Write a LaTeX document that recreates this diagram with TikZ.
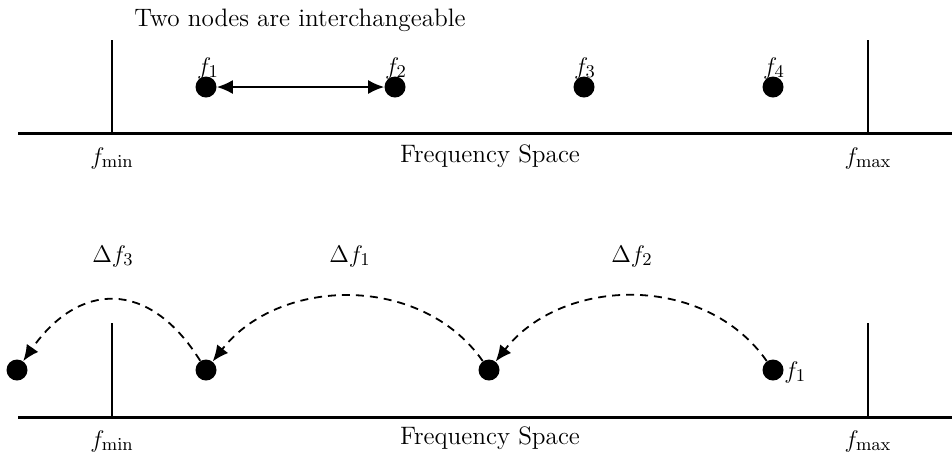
\documentclass[tikz,border=0pt]{standalone}
\usetikzlibrary{arrows.meta}
\begin{document}
\begin{tikzpicture}[x=0.5pt,y=-0.5pt,font=\fontsize{12.6}{15}\selectfont,
  dot/.style={circle,fill=black,inner sep=0pt,minimum size=10.5pt},
  axis/.style={line width=1.5pt},
  wall/.style={line width=1pt},
  jump/.style={line width=0.9pt,dash pattern=on 4pt off 3pt,-{Latex[length=8pt,width=7pt]}},
  txt/.style={inner sep=0pt}]
\useasboundingbox (0,0) rectangle (952,452);
% ---------- top panel ----------
\node[txt] (title) at (300,20) {Two nodes are interchangeable};
\coordinate (ta) at (18,133);
\coordinate (tb) at (952,133);
\draw[axis] (ta) -- (tb);
\coordinate (tl0) at (112,40);
\coordinate (tl1) at (112,133);
\coordinate (tr0) at (868,40);
\coordinate (tr1) at (868,133);
\draw[wall] (tl0) -- (tl1);
\draw[wall] (tr0) -- (tr1);
\node[dot] (a1) at (206,87) {};
\node[dot] (a2) at (395,87) {};
\node[dot] (a3) at (584,87) {};
\node[dot] (a4) at (773,87) {};
\node[txt] (la1) at (208,68) {$f_1$};
\node[txt] (la2) at (396,68) {$f_2$};
\node[txt] (la3) at (585,68) {$f_3$};
\node[txt] (la4) at (774,68) {$f_4$};
\draw[line width=0.8pt,{Latex[length=8pt,width=7pt]}-{Latex[length=8pt,width=7pt]}] (a1) -- (a2);
\node[txt] (tmin) at (112,158) {$f_{\min}$};
\node[txt] (tfs) at (490,156) {Frequency Space};
\node[txt] (tmax) at (868,158) {$f_{\max}$};
% ---------- bottom panel ----------
\coordinate (ba) at (18,417);
\coordinate (bb) at (952,417);
\draw[axis] (ba) -- (bb);
\coordinate (bl0) at (112,323);
\coordinate (bl1) at (112,417);
\coordinate (br0) at (868,323);
\coordinate (br1) at (868,417);
\draw[wall] (bl0) -- (bl1);
\draw[wall] (br0) -- (br1);
\node[dot] (b0) at (17,370) {};
\node[dot] (b1) at (206,370) {};
\node[dot] (b2) at (489,370) {};
\node[dot] (b3) at (773,370) {};
\node[txt,anchor=west] (lb3) at (784,372) {$f_1$};
\draw[jump] (b3) to[out=125,in=52,looseness=1.02] (b2);
\draw[jump] (b2) to[out=125,in=52,looseness=1.02] (b1);
\draw[jump] (b1) to[out=122,in=55,looseness=1.4] (b0);
\node[txt] (d3) at (113,256) {$\Delta f_3$};
\node[txt] (d1) at (350,256) {$\Delta f_1$};
\node[txt] (d2) at (632,256) {$\Delta f_2$};
\node[txt] (bmin) at (112,441) {$f_{\min}$};
\node[txt] (bfs) at (490,438) {Frequency Space};
\node[txt] (bmax) at (868,441) {$f_{\max}$};
\end{tikzpicture}
\end{document}
